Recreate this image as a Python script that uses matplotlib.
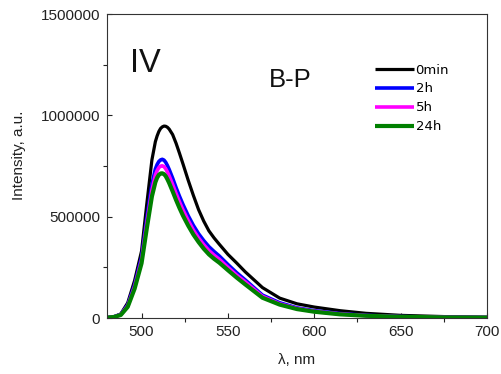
import matplotlib
matplotlib.use("Agg")
import matplotlib.pyplot as plt
import numpy as np

plt.rcParams['font.family'] = ['Liberation Sans', 'DejaVu Sans']

wavelength = [480, 484, 488, 492, 496, 500, 503, 506, 508, 509, 510, 511, 512, 513,
              514, 515, 516, 518, 520, 522, 524, 527, 530, 533, 536, 539, 542, 545,
              550, 555, 560, 570, 580, 590, 600, 615, 630, 650, 675, 700]
# intensities in thousands (a.u.)
i_0min = [2, 6, 20, 75, 185, 330, 560, 780, 870, 898, 920, 935, 943, 947,
          946, 941, 932, 905, 862, 812, 760, 680, 605, 535, 478, 430, 395, 364,
          314, 272, 228, 150, 98, 70, 54, 36, 23, 13, 7, 4]
i_2h = [2, 6, 18, 65, 165, 300, 490, 660, 735, 757, 772, 780, 783, 779,
        768, 752, 733, 690, 643, 600, 560, 505, 457, 416, 382, 352, 328, 306,
        264, 224, 188, 113, 75, 50, 36, 22, 13, 7, 4, 2]
i_5h = [2, 5, 17, 60, 155, 285, 465, 630, 705, 727, 742, 749, 751, 747,
        736, 720, 701, 659, 614, 572, 533, 481, 434, 395, 362, 333, 310, 290,
        250, 212, 179, 107, 70, 47, 33, 20, 12, 6.5, 3.5, 2]
i_24h = [2, 5, 15, 55, 145, 270, 440, 600, 670, 692, 706, 713, 714, 710,
         700, 684, 666, 625, 582, 542, 505, 456, 412, 375, 342, 314, 292, 273,
         236, 200, 166, 100, 66, 44, 31, 18, 11, 6, 3, 2]

series_labels = ["0min", "2h", "5h", "24h"]
series_colors = ["#000000", "#0000ff", "#ff00ff", "#008000"]
series_widths = [2.3, 2.6, 2.6, 3.0]

xticks = [500, 550, 600, 650, 700]
yticks = [0, 500000, 1000000, 1500000]
ytick_labels = ["0", "500000", "1000000", "1500000"]

W, H = 502, 374
fig = plt.figure(figsize=(W / 100, H / 100), dpi=100)
ax = fig.add_axes([107 / W, 1 - 318 / H, 380 / W, 304 / H])

for vals, lab, col, lw in zip([i_0min, i_2h, i_5h, i_24h], series_labels,
                              series_colors, series_widths):
    ax.plot(wavelength, np.array(vals) * 1000, color=col, lw=lw, label=lab,
            solid_joinstyle='round', solid_capstyle='butt')

ax.set_xlim(480, 700)
ax.set_ylim(0, 1500000)
ax.set_xticks(xticks)
ax.set_xticks([525, 575, 625, 675], minor=True)
ax.set_yticks(yticks)
ax.set_yticklabels(ytick_labels)
ax.set_yticks([250000, 750000, 1250000], minor=True)

ax.tick_params(which='major', direction='in', length=3.8, width=0.8,
               labelsize=11, pad=5, colors='#222222')
ax.tick_params(which='minor', direction='out', length=2.6, width=0.8,
               colors='#222222')
ax.tick_params(top=False, right=False, which='both')
for s in ax.spines.values():
    s.set_color('#333333')
    s.set_linewidth(0.8)

fig.text(19 / W, 1 - 155.5 / H, "Intensity, a.u.", rotation=90,
         ha='center', va='center', fontsize=11, color='#222222')
fig.text(297 / W, 1 - 360 / H, "λ, nm", ha='center', va='center',
         fontsize=11, color='#222222')

fig.text(130 / W, 1 - 71.7 / H, "IV", ha='left', va='baseline',
         fontsize=23.5, color='#111111')
fig.text(269 / W, 1 - 87.3 / H, "B-P", ha='left', va='baseline',
         fontsize=18.5, color='#111111')

leg = ax.legend(loc='upper left', bbox_to_anchor=((375 - 107) / 380, 1 - (63.5 - 14) / 304),
                frameon=False, prop={'family': 'DejaVu Sans', 'size': 9.5},
                handlelength=2.95, handletextpad=0.12,
                labelspacing=0.45, borderpad=0, borderaxespad=0)

fig.savefig("out.png", dpi=100)
